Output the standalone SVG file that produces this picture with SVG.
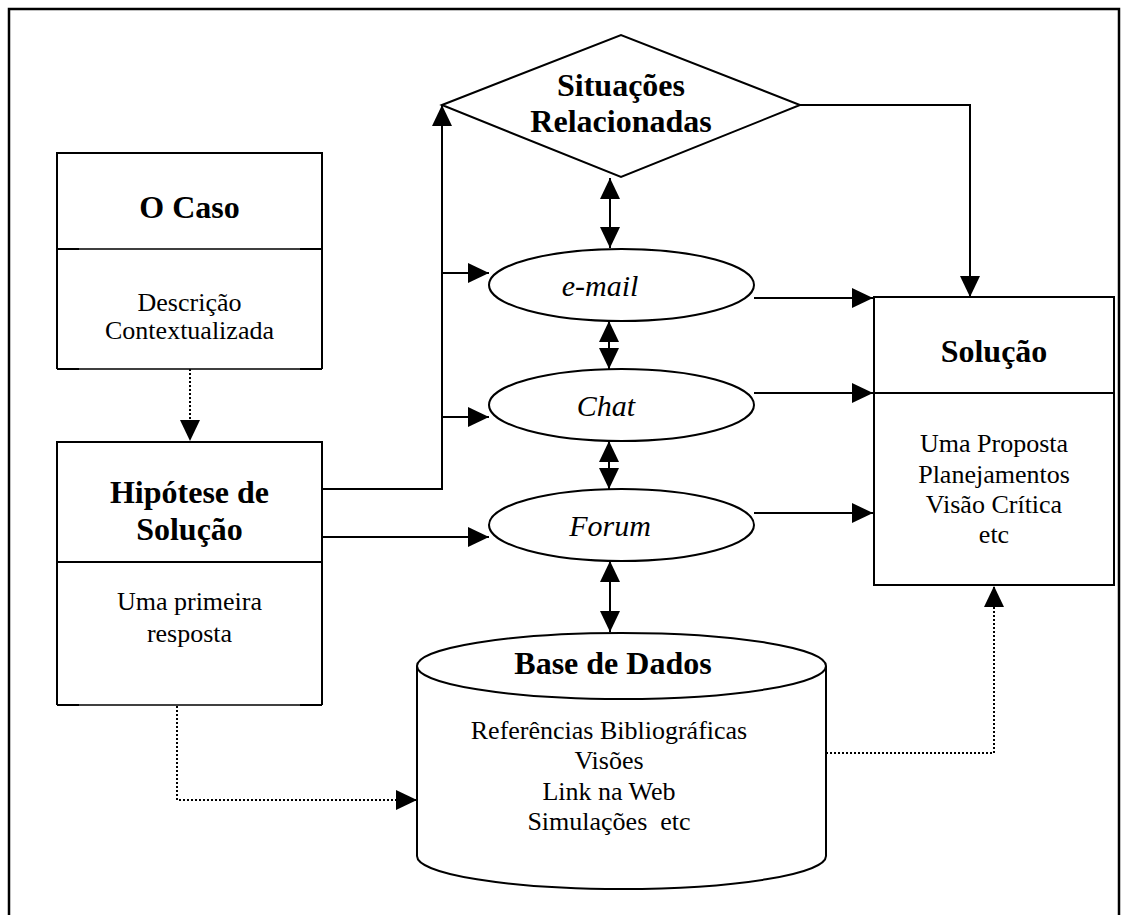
<svg xmlns="http://www.w3.org/2000/svg" width="1128" height="915" viewBox="0 0 1128 915">
<defs>
<style>
.t{font-family:"Liberation Serif","Times New Roman",serif;fill:#000;text-anchor:middle}
.b{font-weight:bold;font-size:32px}
.r{font-size:26px}
.i{font-style:italic;font-size:30px}
.s{fill:#fff;stroke:#000;stroke-width:2}
.c{fill:none;stroke:#000;stroke-width:2}
.d{fill:none;stroke:#000;stroke-width:2;stroke-dasharray:2 2}
.thin{fill:none;stroke:#000;stroke-width:1.3}
</style>
<marker id="ah" viewBox="0 0 21 20" markerWidth="21" markerHeight="20" refX="21" refY="10" orient="auto-start-reverse" markerUnits="userSpaceOnUse">
<path d="M0,0 L21,10 L0,20 z" fill="#000"/>
</marker>
</defs>
<rect x="0" y="0" width="1128" height="915" fill="#fff"/>
<rect x="9" y="9" width="1110" height="920" fill="none" stroke="#000" stroke-width="2.5"/>

<g id="connectors">
<path class="d" d="M190,369 V441" marker-end="url(#ah)"/>
<path class="c" d="M322,489 H442 V105" marker-end="url(#ah)"/>
<path class="c" d="M442,273 H489" marker-end="url(#ah)"/>
<path class="c" d="M442,417 H489" marker-end="url(#ah)"/>
<path class="c" d="M322,537 H489" marker-end="url(#ah)"/>
<path class="c" d="M610,178 V248" marker-start="url(#ah)" marker-end="url(#ah)"/>
<path class="c" d="M609,321 V369" marker-start="url(#ah)" marker-end="url(#ah)"/>
<path class="c" d="M609,441 V489" marker-start="url(#ah)" marker-end="url(#ah)"/>
<path class="c" d="M610,561 V632" marker-start="url(#ah)" marker-end="url(#ah)"/>
<path class="c" d="M754,298 H873" marker-end="url(#ah)"/>
<path class="c" d="M754,393 H873" marker-end="url(#ah)"/>
<path class="c" d="M754,513 H873" marker-end="url(#ah)"/>
<path class="c" d="M800,105 H970 V297" marker-end="url(#ah)"/>
<path class="d" d="M826,753 H994 V586" marker-end="url(#ah)"/>
<path class="d" d="M177,706 V800 H417" marker-end="url(#ah)"/>
</g>

<g id="o-caso">
<path class="c" d="M57,369 V153 H322 V369"/>
<path class="thin" d="M57,249 H322 M57,369 H322"/>
<path class="c" d="M57,249 H79 M300,249 H322 M57,369 H79 M300,369 H322"/>
<text class="t b" x="189.5" y="218">O Caso</text>
<text class="t r" x="189.5" y="311">Descrição</text>
<text class="t r" x="189.5" y="339">Contextualizada</text>
</g>

<g id="hipotese">
<path class="c" d="M57,705 V442 H322 V705"/>
<path class="c" d="M57,562 H322"/>
<path class="thin" d="M57,705 H322"/>
<path class="c" d="M57,705 H79 M300,705 H322"/>
<text class="t b" x="189.5" y="503">Hipótese de</text>
<text class="t b" x="189.5" y="540">Solução</text>
<text class="t r" x="189.5" y="610">Uma primeira</text>
<text class="t r" x="189.5" y="642">resposta</text>
</g>

<g id="situacoes">
<path class="s" d="M442,105 L621,35 L800,105 L621,177 z"/>
<text class="t b" x="621" y="96">Situações</text>
<text class="t b" x="621" y="132">Relacionadas</text>
</g>

<g id="email">
<ellipse class="s" cx="621.5" cy="285" rx="132.5" ry="36"/>
<text class="t i" x="600" y="296">e-mail</text>
</g>

<g id="chat">
<ellipse class="s" cx="621.5" cy="405" rx="132.5" ry="36"/>
<text class="t i" x="606" y="416">Chat</text>
</g>

<g id="forum">
<ellipse class="s" cx="621.5" cy="525" rx="132.5" ry="36"/>
<text class="t i" x="610" y="536">Forum</text>
</g>

<g id="base-de-dados">
<path class="s" d="M417,666 V856 A204.5,33 0 0 0 826,856 V666"/>
<ellipse class="s" cx="621.5" cy="666" rx="204.5" ry="33"/>
<text class="t b" x="613" y="674">Base de Dados</text>
<text class="t r" x="609" y="739">Referências Bibliográficas</text>
<text class="t r" x="609" y="769">Visões</text>
<text class="t r" x="609" y="800">Link na Web</text>
<text class="t r" x="609" y="830" xml:space="preserve">Simulações  etc</text>
</g>

<g id="solucao">
<rect class="s" x="874" y="297" width="240" height="288"/>
<path class="c" d="M874,393 H1114"/>
<text class="t b" x="994" y="362">Solução</text>
<text class="t r" x="994" y="452">Uma Proposta</text>
<text class="t r" x="994" y="483">Planejamentos</text>
<text class="t r" x="994" y="513">Visão Crítica</text>
<text class="t r" x="994" y="543">etc</text>
</g>
</svg>
